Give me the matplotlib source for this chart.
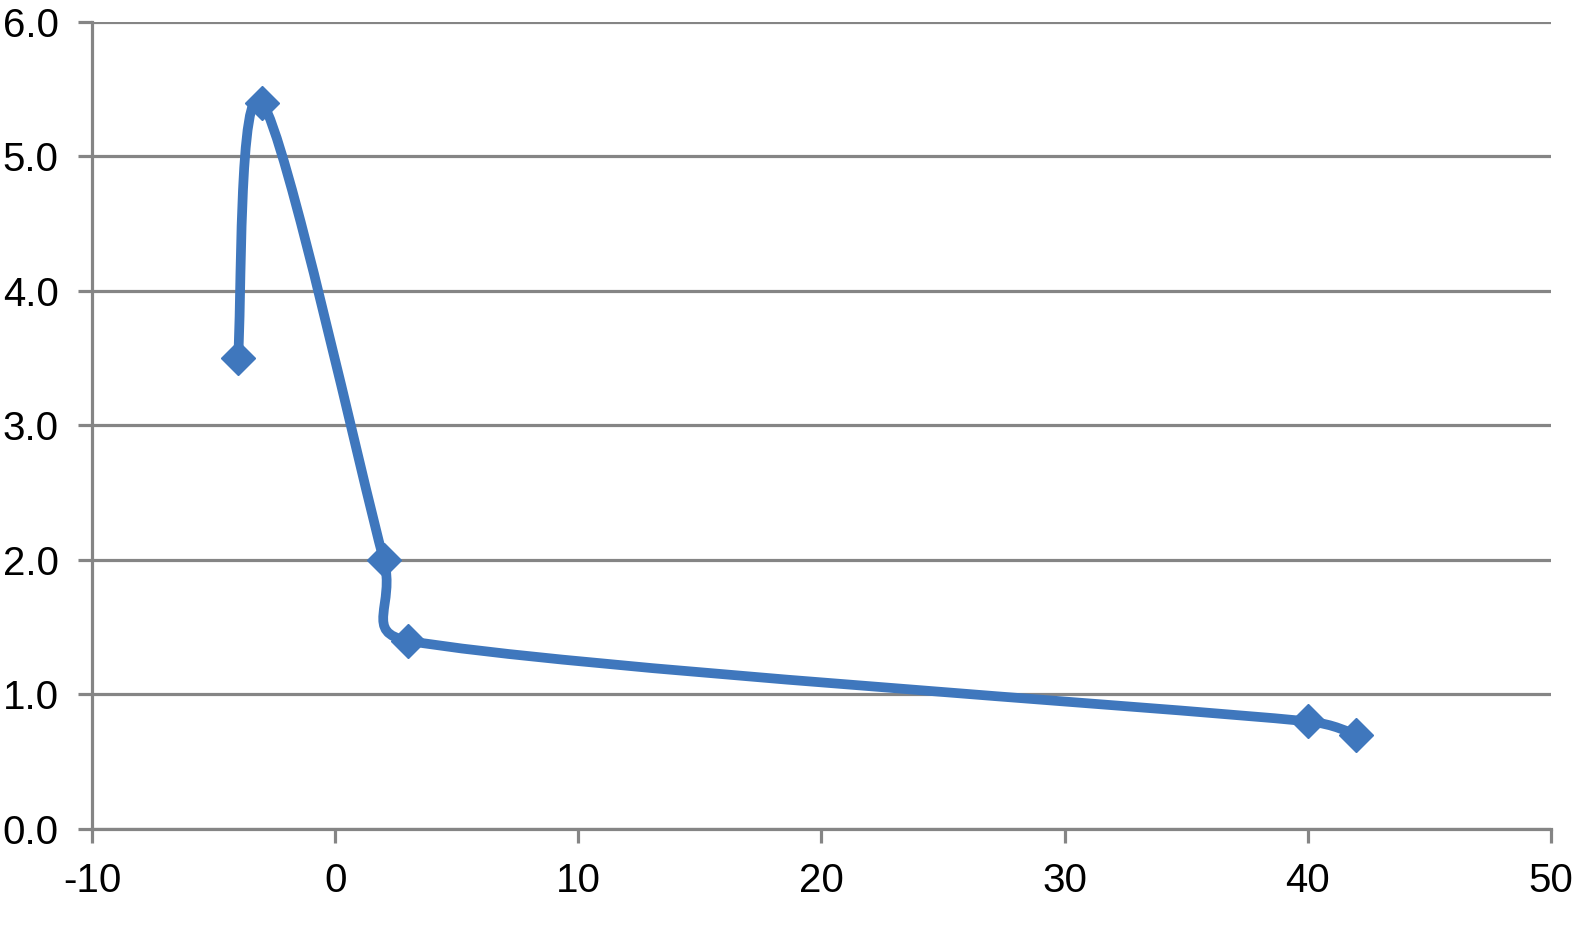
"""Smoothed scatter line, Excel style, with diamond markers."""

import matplotlib

matplotlib.use("Agg")
import matplotlib.pyplot as plt
import numpy as np
from matplotlib.patches import PathPatch
from matplotlib.path import Path
from matplotlib.ticker import FormatStrFormatter

x_vals = [-4, -3, 2, 3, 40, 42]
y_vals = [3.5, 5.4, 2.0, 1.4, 0.8, 0.7]
x_ticks = [-10, 0, 10, 20, 30, 40, 50]
y_ticks = [0, 1, 2, 3, 4, 5, 6]

BLUE = "#3f77bd"
GRAY = "#858585"

plt.rcParams["font.family"] = ["Liberation Sans", "DejaVu Sans"]
plt.rcParams["axes.unicode_minus"] = False


def _clamp(vec, limit):
    length = np.hypot(*vec)
    if length > limit and length > 0:
        return vec * (limit / length)
    return vec


def smooth_path(ax, xs, ys, k=0.55):
    """Bezier path through the points, control points computed in pixel space.

    Control handles are capped relative to the segment length so short
    segments next to long ones do not loop (like Excel's smoothing).
    """
    pts = ax.transData.transform(np.column_stack([xs, ys]))
    n = len(pts)
    verts = [pts[0]]
    codes = [Path.MOVETO]
    for i in range(n - 1):
        p0 = pts[max(i - 1, 0)]
        p1 = pts[i]
        p2 = pts[i + 1]
        p3 = pts[min(i + 2, n - 1)]
        seg = np.hypot(*(p2 - p1))
        c1 = p1 + _clamp((p2 - p0) / 6.0, k * seg)
        c2 = p2 - _clamp((p3 - p1) / 6.0, k * seg)
        verts += [c1, c2, p2]
        codes += [Path.CURVE4] * 3
    verts = ax.transData.inverted().transform(np.array(verts))
    return Path(verts, codes)


fig = plt.figure(figsize=(15.73, 9.51), dpi=100)
ax = fig.add_axes([0.0585, 0.1283, 0.9275, 0.8486])
ax.set_xlim(-10, 50)
ax.set_ylim(0, 6)
ax.set_xticks(x_ticks)
ax.set_yticks(y_ticks)
ax.yaxis.set_major_formatter(FormatStrFormatter("%.1f"))

ax.grid(True, axis="y", color=GRAY, linewidth=2.3)
ax.set_axisbelow(True)
for side in ("top", "right"):
    ax.spines[side].set_visible(False)
for side in ("left", "bottom"):
    ax.spines[side].set_color(GRAY)
    ax.spines[side].set_linewidth(2.3)
ax.tick_params(axis="both", color=GRAY, width=2.3, length=10, labelsize=29)
ax.tick_params(axis="y", pad=14)
ax.tick_params(axis="x", pad=14)

ax.add_patch(PathPatch(smooth_path(ax, x_vals, y_vals), fill=False,
                       edgecolor=BLUE, linewidth=7, capstyle="round",
                       joinstyle="round", zorder=3))
ax.plot(x_vals, y_vals, linestyle="none", marker="D", markersize=17,
        color=BLUE, markeredgecolor=BLUE, zorder=4, clip_on=False)

fig.savefig("out.png", dpi=100)
